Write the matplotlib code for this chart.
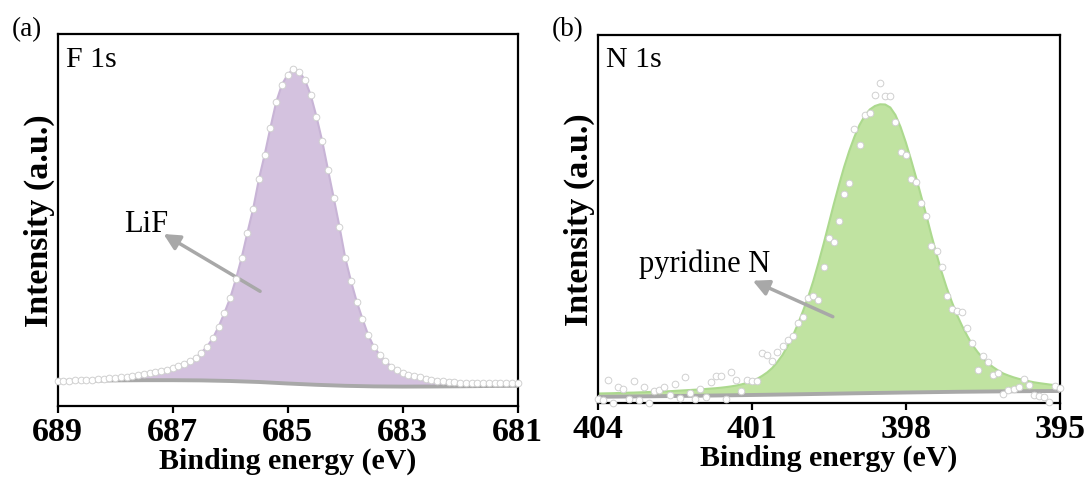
import numpy as np
import matplotlib
matplotlib.use("Agg")
import matplotlib.pyplot as plt

plt.rcParams['font.family'] = ['Liberation Serif', 'DejaVu Serif']

# ---- F 1s (panel a) ----
f1s_be = np.round(np.arange(689.0, 680.95, -0.1), 2)
f1s_counts = [25.3, 25.4, 25.5, 25.7, 25.9, 26.2, 26.5, 26.9, 27.3, 27.8,
              28.3, 28.8, 29.4, 30.1, 31.0, 32.0, 33.0, 34.0, 35.2, 36.3,
              38.0, 40.3, 42.5, 45.0, 48.0, 53.5, 59.5, 68.0, 79.5, 93.2,
              108.0, 127.0, 148.5, 173.5, 197.5, 227.0, 251.5, 278.5, 304.0, 321.5,
              331.5, 337.2, 334.5, 326.0, 311.0, 289.5, 265.0, 236.5, 208.2, 179.5,
              148.5, 125.0, 104.5, 87.2, 71.0, 59.0, 51.3, 44.8, 39.5, 35.7,
              33.4, 31.5, 30.0, 28.6, 27.4, 26.4, 25.5, 24.8, 24.2, 23.8,
              23.5, 23.3, 23.2, 23.1, 23.0, 23.0, 22.9, 22.9, 22.8, 22.8, 22.7]
f1s_bg_be = [689.0, 688.5, 688.0, 687.5, 687.0, 686.5, 686.0, 685.5, 685.0,
             684.5, 684.0, 683.5, 683.0, 682.5, 682.0, 681.5, 681.0]
f1s_bg = [25.0, 25.3, 25.6, 25.8, 25.8, 25.6, 25.0, 24.0, 22.5,
          21.2, 20.2, 19.6, 19.4, 19.5, 19.7, 20.0, 20.2]

# ---- N 1s (panel b) ----
n1s_be = np.round(np.arange(404.0, 394.95, -0.1), 2)
n1s_fit = [9.5, 9.6, 9.7, 9.8, 10.0, 10.1, 10.3, 10.4, 10.6, 10.8,
           11.0, 11.2, 11.4, 11.6, 11.8, 12.1, 12.4, 12.7, 13.0, 13.3,
           13.6, 14.0, 14.4, 14.8, 15.3, 15.9, 16.6, 17.5, 18.6, 20.0,
           21.7, 24.0, 27.0, 30.5, 35.0, 41.0, 48.0, 57.0, 67.0, 79.0,
           92.0, 106.0, 122.0, 140.0, 159.0, 179.0, 199.0, 218.0, 236.0, 252.0,
           266.0, 278.0, 287.0, 293.5, 297.0, 298.7, 298.5, 295.5, 288.0, 276.0,
           261.0, 244.0, 226.0, 207.0, 188.0, 168.0, 149.0, 131.0, 115.0, 101.0,
           88.0, 77.0, 67.0, 58.0, 51.0, 45.0, 40.0, 36.0, 32.5, 29.5,
           27.5, 25.7, 24.2, 23.0, 21.8, 20.7, 19.9, 19.2, 18.5, 17.9, 17.3]
n1s_counts = [4.5, 3.0, 23.0, 0.5, 16.3, 13.7, 4.0, 22.0, 3.0, 16.3,
              0.5, 12.3, 13.3, 16.0, 8.0, 19.0, 4.7, 26.3, 9.7, 4.3,
              14.0, 5.7, 20.7, 27.3, 27.3, 4.3, 31.3, 23.3, 12.0, 23.0,
              22.0, 21.7, 49.7, 48.0, 41.7, 51.3, 56.7, 63.3, 66.7, 80.0,
              85.7, 104.7, 107.3, 103.3, 135.7, 164.7, 160.7, 181.7, 209.0, 220.0,
              274.0, 258.3, 288.0, 289.7, 308.0, 319.7, 307.3, 306.7, 281.3, 251.3,
              248.0, 224.0, 221.3, 200.0, 187.3, 156.7, 152.3, 135.7, 106.7, 94.0,
              92.3, 91.3, 74.7, 59.7, 33.3, 47.3, 40.7, 28.0, 29.7, 9.0,
              13.3, 14.0, 15.7, 24.0, 18.0, 8.0, 7.3, 5.7, 0.7, 16.7, 15.0]
n1s_bg_be = [404, 403, 402, 401, 400, 399, 398, 397, 396, 395]
n1s_bg = [6.2, 6.7, 7.3, 8.0, 8.8, 9.7, 10.5, 11.2, 11.7, 12.0]

W, H = 1085, 481
fig = plt.figure(figsize=(W / 100, H / 100), dpi=100)
ax1 = fig.add_axes([57.7 / W, 1 - 407 / H, 460 / W, 372 / H])
ax2 = fig.add_axes([597.7 / W, 1 - 404 / H, 462 / W, 368 / H])

grey = '#a8a8a8'


def draw_panel(ax, x, fit, counts, bg_x, bg, fill, edge):
    poly_x = np.concatenate([x, bg_x[::-1]])
    poly_y = np.concatenate([fit, bg[::-1]])
    ax.fill(poly_x, poly_y, color=fill, lw=0, zorder=1)
    ax.plot(x, fit, color=edge, lw=1.5, zorder=2)
    ax.plot(bg_x, bg, color=grey, lw=2.8, zorder=3)
    ax.plot(x, counts, 'o', ms=4.8, mfc='white', mec='#d0d0d0', mew=0.7,
            zorder=4, clip_on=False)


draw_panel(ax1, f1s_be, f1s_counts, f1s_counts, np.array(f1s_bg_be),
           np.array(f1s_bg), '#d4c2df', '#c8b4d6')
draw_panel(ax2, n1s_be, n1s_fit, n1s_counts, np.array(n1s_bg_be, float),
           np.array(n1s_bg), '#c0e3a1', '#acd98e')

ax1.set_xlim(689, 681)
ax1.set_ylim(0, 372)
ax1.set_xticks([689, 687, 685, 683, 681])
ax2.set_xlim(404, 395)
ax2.set_ylim(0, 368)
ax2.set_xticks([404, 401, 398, 395])

for ax in (ax1, ax2):
    ax.set_yticks([])
    for s in ax.spines.values():
        s.set_linewidth(1.6)
    ax.tick_params(axis='x', direction='out', length=5, width=1.6, pad=2,
                   labelsize=24.5)
    for lab in ax.get_xticklabels():
        lab.set_fontweight('bold')
    ax.set_xlabel('Binding energy (eV)', fontsize=21.5, fontweight='bold',
                  labelpad=0)
    ax.set_ylabel('Intensity (a.u.)', fontsize=24.5, fontweight='bold',
                  labelpad=2)

ax1.text(0.017, 0.915, 'F 1s', transform=ax1.transAxes, fontsize=21.5,
         va='baseline', ha='left')
ax2.text(0.017, 0.916, 'N 1s', transform=ax2.transAxes, fontsize=21.5,
         va='baseline', ha='left')

fig.text(0.0108, 1 - 36 / H, '(a)', fontsize=19.5, va='baseline')
fig.text(0.5088, 1 - 36 / H, '(b)', fontsize=19.5, va='baseline')

arrow = dict(arrowstyle='-|>', color=grey, lw=2.5, mutation_scale=24,
             shrinkA=0, shrinkB=0)
ax1.annotate('', xy=(687.16, 172), xytext=(685.48, 114.7), arrowprops=arrow)
ax1.text(687.08, 175, 'LiF', fontsize=22, ha='right', va='baseline')
ax2.annotate('', xy=(400.98, 122.3), xytext=(399.42, 86.3), arrowprops=arrow)
ax2.text(400.64, 132.3, 'pyridine N', fontsize=22, ha='right', va='baseline')

fig.savefig('out.png', dpi=100)
